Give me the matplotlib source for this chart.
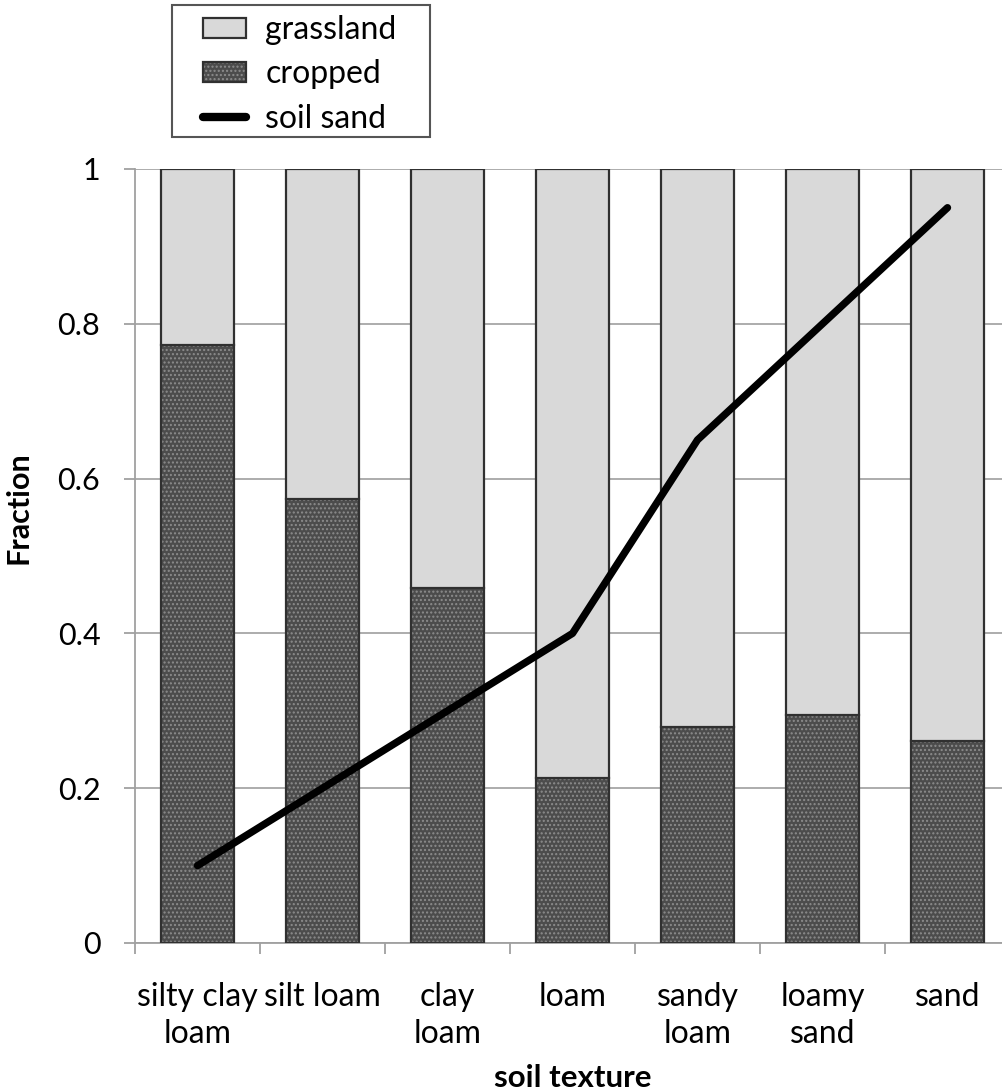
import matplotlib.pyplot as plt
from matplotlib.lines import Line2D
from matplotlib.patches import Rectangle

plt.rcParams['font.family'] = ['Lato', 'DejaVu Sans']

textures = ['silty clay\nloam', 'silt loam', 'clay\nloam', 'loam', 'sandy\nloam', 'loamy\nsand', 'sand']
cropped = [0.772, 0.573, 0.459, 0.213, 0.279, 0.294, 0.261]
grassland = [1 - c for c in cropped]
soil_sand = [0.10, 0.20, 0.30, 0.40, 0.65, 0.80, 0.95]

W, H = 1002, 1091
fig = plt.figure(figsize=(W / 100, H / 100), dpi=100)
ax = fig.add_axes([135 / W, (H - 943) / H, 875 / W, (943 - 169) / H])

x = list(range(len(textures)))
bw = 0.58

# cropped bars: dotted fill, then outline on top
b_fill = ax.bar(x, cropped, bw, color='#4c4c4c', edgecolor='#8c8c8c', hatch='....', lw=0, zorder=2)
b_edge = ax.bar(x, cropped, bw, fill=False, edgecolor='#303030', lw=1.6, zorder=3)
b_grass = ax.bar(x, grassland, bw, bottom=cropped, color='#d9d9d9', edgecolor='#303030', lw=1.6, zorder=3)
line, = ax.plot(x, soil_sand, color='black', lw=5.3, solid_capstyle='round', zorder=4)

ax.set_xlim(-0.5, len(textures) - 0.5)
ax.set_ylim(0, 1)
ax.set_yticks([0, 0.2, 0.4, 0.6, 0.8, 1])
ax.set_yticklabels(['0', '0.2', '0.4', '0.6', '0.8', '1'])
ax.set_xticks([i - 0.5 for i in range(len(textures) + 1)], minor=False)
ax.set_xticklabels([])
ax.set_xticks(x, minor=True)
ax.set_xticklabels(textures, minor=True, fontsize=23, linespacing=1.3)
ax.tick_params(axis='x', which='minor', length=0, pad=28)
ax.tick_params(axis='x', which='major', length=8, color='#a0a0a0', width=1.3)
ax.tick_params(axis='y', length=8, color='#a0a0a0', width=1.3, labelsize=22, pad=17)

ax.grid(axis='y', color='#a6a6a6', lw=1.3, zorder=0)
ax.set_axisbelow(True)
for s in ['top', 'right']:
    ax.spines[s].set_visible(False)
for s in ['left', 'bottom']:
    ax.spines[s].set_color('#a0a0a0')
    ax.spines[s].set_linewidth(1.3)

ax.set_ylabel('Fraction', fontsize=22, fontweight='bold')
ax.yaxis.set_label_coords((33 - 135) / 875, (943 - 508) / 774)
ax.set_xlabel('soil texture', fontsize=22.5, fontweight='bold')
ax.xaxis.set_label_coords(0.5, (943 - 1064) / 774)

# legend box drawn separately for the wide side padding
fig.patches.append(Rectangle((172 / W, 1 - 137 / H), 258 / W, 132 / H, transform=fig.transFigure,
                             facecolor='white', edgecolor='#555555', lw=1.5, zorder=5))
sand_handle = Line2D([], [], color='black', lw=6, solid_capstyle='round')
leg = fig.legend([b_grass, (b_fill, b_edge), sand_handle], ['grassland', 'cropped', 'soil sand'],
                 loc='upper left', bbox_to_anchor=(203 / W, 1 - 15 / H), fontsize=23,
                 frameon=False, handlelength=1.35, handleheight=0.6, labelspacing=0.45,
                 borderpad=0, borderaxespad=0, handletextpad=0.6)
leg.set_zorder(6)

fig.savefig('out.png', dpi=100)
